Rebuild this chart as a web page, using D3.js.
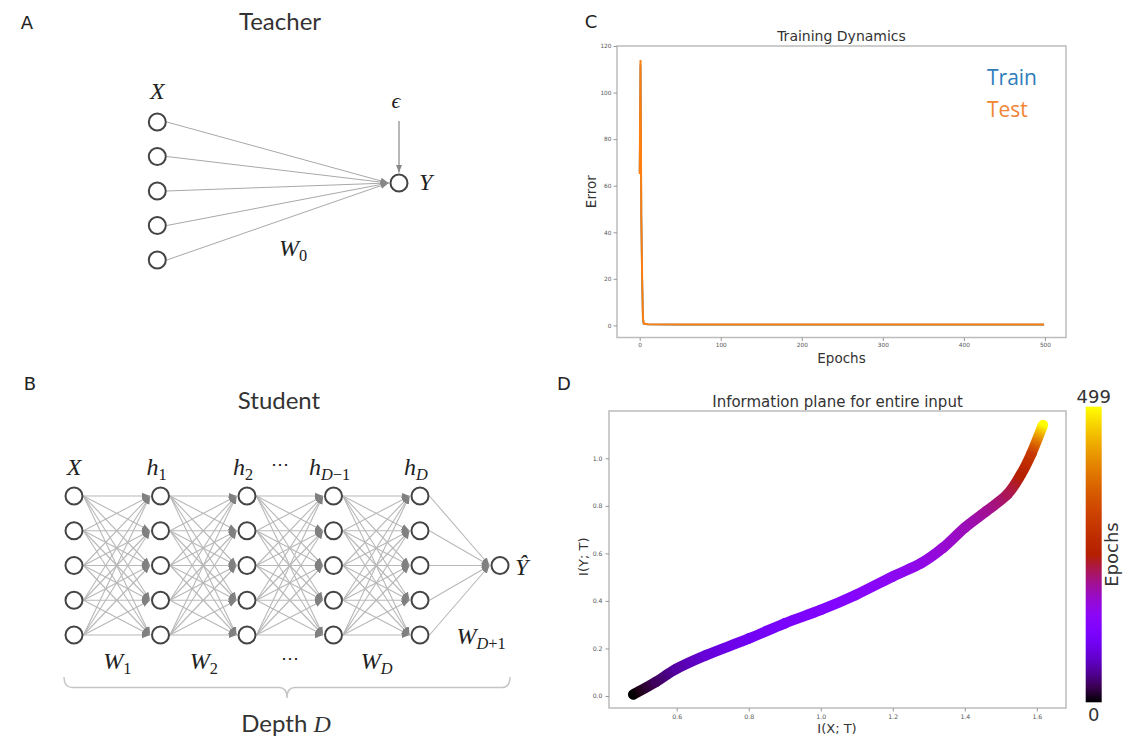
<!DOCTYPE html>
<html>
<head>
<meta charset="utf-8">
<script src="https://cdn.jsdelivr.net/npm/d3@7"></script>
<style>
  body { margin: 0; background: #fff; }
  svg { display: block; }
</style>
</head>
<body>
<div id="fig"></div>
<script>
// ---- data ----
// C: training dynamics
const epochs     = [0, 1, 2, 3, 4, 5, 10, 50, 100, 200, 300, 400, 499];
const trainError = [66, 112, 46, 20, 3, 0.7, 0.4, 0.3, 0.3, 0.3, 0.3, 0.3, 0.3];
const testError  = [65, 114, 47, 21, 3, 0.8, 0.5, 0.4, 0.4, 0.4, 0.4, 0.4, 0.4];
const errorTicks = [0, 20, 40, 60, 80, 100, 120];
const epochTicks = [0, 100, 200, 300, 400, 500];

// D: information plane
const ixt      = [0.479, 0.542, 0.60, 0.682, 0.801, 0.90, 1.0, 1.097, 1.2, 1.279, 1.339, 1.399, 1.459, 1.518, 1.555, 1.585, 1.617];
const iyt      = [0.006, 0.059, 0.115, 0.172, 0.242, 0.306, 0.362, 0.425, 0.503, 0.559, 0.623, 0.707, 0.777, 0.848, 0.93, 1.02, 1.14];
const ipEpochs = [0, 30, 55, 80, 100, 112, 125, 137, 150, 160, 172, 185, 200, 222, 250, 300, 499];
const ixtTicks = [0.6, 0.8, 1.0, 1.2, 1.4, 1.6];
const iytTicks = [0.0, 0.2, 0.4, 0.6, 0.8, 1.0];
const maxEpoch = 499;

// A / B: network diagrams
const teacherInputs = [0, 1, 2, 3, 4];
const studentLayers = ["X", "h1", "h2", "hD-1", "hD"];
const studentNodes  = [0, 1, 2, 3, 4];
const layerLabels = [
  [{t: "X", it: 1}],
  [{t: "h", it: 1}, {t: "1", sub: 1}],
  [{t: "h", it: 1}, {t: "2", sub: 1}],
  [{t: "h", it: 1}, {t: "D", it: 1, sub: 1}, {t: "\u22121", sub: 1}],
  [{t: "h", it: 1}, {t: "D", it: 1, sub: 1}]
];
const weightLabels = [
  [{t: "W", it: 1}, {t: "1", sub: 1}],
  [{t: "W", it: 1}, {t: "2", sub: 1}],
  [{t: "\u22EF"}],
  [{t: "W", it: 1}, {t: "D", it: 1, sub: 1}]
];

const serif = "'Liberation Serif','DejaVu Serif',serif";
const sans  = "Lato,'Open Sans',sans-serif";
const mpl   = "'DejaVu Sans',sans-serif";

// gnuplot colormap
function gnuplot(t) {
  const r = Math.sqrt(t), g = t * t * t, b = Math.max(0, Math.sin(2 * Math.PI * t));
  return d3.rgb(255 * r, 255 * g, 255 * b).toString();
}
const epochColor = e => gnuplot(e / maxEpoch);

const svg = d3.select("#fig").append("svg").attr("width", 1125).attr("height", 748);
const defs = svg.append("defs");

function arrowMarker(id, color, size) {
  defs.append("marker")
    .attr("id", id)
    .attr("viewBox", "0 0 10 10")
    .attr("refX", 10).attr("refY", 5)
    .attr("markerWidth", size).attr("markerHeight", size)
    .attr("markerUnits", "userSpaceOnUse")
    .attr("orient", "auto")
    .append("path").attr("d", "M0,1L10,5L0,9Z").attr("fill", color);
}
arrowMarker("arrA", "#888", 8);
arrowMarker("arrB", "#808080", 8);

function mathText(g, x, y, parts, size, anchor) {
  const t = g.append("text").attr("x", x).attr("y", y)
    .attr("text-anchor", anchor || "middle")
    .style("font-family", serif).style("font-size", size + "px").attr("fill", "#222");
  let down = false;
  parts.forEach(p => {
    const s = t.append("tspan").text(p.t).style("font-style", p.it ? "italic" : "normal");
    if (p.sub) {
      s.style("font-size", (size * 0.68) + "px");
      if (!down) { s.attr("dy", size * 0.22); down = true; }
    } else if (down) { s.attr("dy", -size * 0.22); down = false; }
  });
  return t;
}

function plainText(x, y, str, size, family, anchor, color) {
  return svg.append("text").attr("x", x).attr("y", y).text(str)
    .attr("text-anchor", anchor || "middle")
    .style("font-family", family).style("font-size", size + "px")
    .attr("fill", color || "#333");
}

// panel letters
plainText(27, 29, "A", 18, mpl, "middle", "#222");
plainText(30, 390, "B", 18, mpl, "middle", "#222");
plainText(591, 28, "C", 18, mpl, "middle", "#222");
plainText(564, 390, "D", 18, mpl, "middle", "#222");

// ---- A: teacher ----
const r = 9.5;
const gA = svg.append("g");
const aX = d3.scalePoint().domain(["in", "out"]).range([157.3, 399]);
const aY = d3.scaleLinear().domain([0, 4]).range([122, 260]);
const aOutY = 183;

plainText(280, 30, "Teacher", 24, sans);

gA.selectAll("line.edge").data(teacherInputs).join("line")
  .attr("x1", aX("in") + r).attr("y1", d => aY(d))
  .attr("x2", aX("out") - r - 1).attr("y2", aOutY)
  .attr("stroke", "#a8a8a8").attr("stroke-width", 1)
  .attr("marker-end", "url(#arrA)");

gA.append("line")
  .attr("x1", aX("out")).attr("y1", 121).attr("x2", aX("out")).attr("y2", aOutY - r - 1)
  .attr("stroke", "#888").attr("stroke-width", 1.2)
  .attr("marker-end", "url(#arrA)");

gA.selectAll("circle.in").data(teacherInputs).join("circle")
  .attr("cx", aX("in")).attr("cy", d => aY(d)).attr("r", r - 1)
  .attr("fill", "#fff").attr("stroke", "#444").attr("stroke-width", 2);
gA.append("circle").attr("cx", aX("out")).attr("cy", aOutY).attr("r", r - 1)
  .attr("fill", "#fff").attr("stroke", "#444").attr("stroke-width", 2);

mathText(gA, aX("in"), 99, [{t: "X", it: 1}], 24);
mathText(gA, aX("out") - 3, 108, [{t: "\u03F5", it: 1}], 22);
mathText(gA, aX("out") + 20, 190, [{t: "Y", it: 1}], 24, "start");
mathText(gA, 293, 256, [{t: "W", it: 1}, {t: "0", sub: 1}], 24);

// ---- B: student ----
const gB = svg.append("g");
const bX = d3.scalePoint().domain(studentLayers).range([74, 420]);
const bY = d3.scaleLinear().domain([0, 4]).range([496, 635]);
const outX = 500, outY = bY(2);

plainText(279, 409, "Student", 24, sans);

const edges = [];
for (let l = 0; l < studentLayers.length - 1; l++)
  studentNodes.forEach(i => studentNodes.forEach(j =>
    edges.push({x1: bX(studentLayers[l]), y1: bY(i), x2: bX(studentLayers[l + 1]), y2: bY(j)})));
studentNodes.forEach(i => edges.push({x1: bX("hD"), y1: bY(i), x2: outX, y2: outY}));

gB.selectAll("line").data(edges).join("line")
  .attr("x1", d => d.x1 + r).attr("y1", d => d.y1)
  .attr("x2", d => d.x2 - r - 1).attr("y2", d => d.y2)
  .attr("stroke", "#b8b8b8").attr("stroke-width", 1.1)
  .attr("marker-end", "url(#arrB)");

studentLayers.forEach(l => {
  gB.selectAll("circle.n" + l).data(studentNodes).join("circle")
    .attr("cx", bX(l)).attr("cy", d => bY(d)).attr("r", r - 1)
    .attr("fill", "#fff").attr("stroke", "#444").attr("stroke-width", 2);
});
gB.append("circle").attr("cx", outX).attr("cy", outY).attr("r", r - 1)
  .attr("fill", "#fff").attr("stroke", "#444").attr("stroke-width", 2);

studentLayers.forEach((l, i) => mathText(gB, bX(l) - (i ? 4 : 0), 475, layerLabels[i], 24));
mathText(gB, (bX("h2") + bX("hD-1")) / 2 - 10, 470, [{t: "\u22EF"}], 18);
weightLabels.forEach((p, i) => {
  const xm = (bX(studentLayers[i]) + bX(studentLayers[i + 1])) / 2;
  mathText(gB, xm, p.length === 1 ? 664 : 669, p, p.length === 1 ? 18 : 24);
});
mathText(gB, 481, 644, [{t: "W", it: 1}, {t: "D", it: 1, sub: 1}, {t: "+1", sub: 1}], 24);
mathText(gB, outX + 15, 575, [{t: "\u0176", it: 1}], 24, "start");

function bracePath(x1, x2, y, h) {
  const xm = (x1 + x2) / 2, q = h / 2, k = 8;
  const p = d3.path();
  p.moveTo(x1, y);
  p.quadraticCurveTo(x1, y + q, x1 + k, y + q);
  p.lineTo(xm - k, y + q);
  p.quadraticCurveTo(xm, y + q, xm, y + h);
  p.quadraticCurveTo(xm, y + q, xm + k, y + q);
  p.lineTo(x2 - k, y + q);
  p.quadraticCurveTo(x2, y + q, x2, y);
  return p.toString();
}
gB.append("path").attr("d", bracePath(64, 510, 677, 21))
  .attr("fill", "none").attr("stroke", "#c4c4c4").attr("stroke-width", 1.4);

const depth = plainText(286, 732, "Depth ", 24, sans);
depth.append("tspan").text("D").style("font-family", serif).style("font-style", "italic");

// ---- C: training dynamics ----
const gC = svg.append("g");
const cx = d3.scaleLinear().domain([-28, 526]).range([617, 1066]);
const cy = d3.scaleLinear().domain([-5.2, 120]).range([337.5, 46]);

gC.append("rect").attr("x", 617).attr("y", 46).attr("width", 449).attr("height", 291.5)
  .attr("fill", "none").attr("stroke", "#bcbcbc").attr("stroke-width", 1.5);

const lineC = (ys) => d3.line().x((d, i) => cx(epochs[i])).y(d => cy(d))(ys);
gC.append("path").attr("d", lineC(trainError)).attr("fill", "none")
  .attr("stroke", "#1f77b4").attr("stroke-width", 1.8);
gC.append("path").attr("d", lineC(testError)).attr("fill", "none")
  .attr("stroke", "#ff7f0e").attr("stroke-width", 2);

function styleAxis(g) {
  g.select(".domain").remove();
  g.selectAll(".tick line").attr("stroke", "#999");
  g.selectAll(".tick text").attr("fill", "#555").style("font-family", mpl).style("font-size", "5.8px");
}
gC.append("g").attr("transform", "translate(0,337.5)")
  .call(d3.axisBottom(cx).tickValues(epochTicks).tickSize(3.5).tickPadding(2))
  .call(styleAxis);
gC.append("g").attr("transform", "translate(617,0)")
  .call(d3.axisLeft(cy).tickValues(errorTicks).tickSize(3.5).tickPadding(2))
  .call(styleAxis);

plainText(841.5, 41, "Training Dynamics", 14, mpl, "middle", "#333");
plainText(841.5, 363, "Epochs", 13.5, mpl, "middle", "#333");
plainText(0, 0, "Error", 13.5, mpl, "middle", "#333")
  .attr("dy", "0.35em").attr("transform", "translate(591.4,191.7) rotate(-90)");

plainText(987, 85, "Train", 21, "'Open Sans',sans-serif", "start", "#2f7cba");
plainText(987, 117, "Test", 21, "'Open Sans',sans-serif", "start", "#f08535");

// ---- D: information plane ----
const gD = svg.append("g");
const dx = d3.scaleLinear().domain([0.412, 1.681]).range([609, 1066]);
const dy = d3.scaleLinear().domain([-0.0505, 1.199]).range([708, 411]);

gD.append("rect").attr("x", 609).attr("y", 411).attr("width", 457).attr("height", 297)
  .attr("fill", "none").attr("stroke", "#bcbcbc").attr("stroke-width", 1.5);

// smooth (Catmull-Rom) segments, each with its own colour gradient
const pts = ixt.map((x, i) => [dx(x), dy(iyt[i])]);
function segPath(i) {
  const p0 = pts[Math.max(i - 1, 0)], p1 = pts[i], p2 = pts[i + 1], p3 = pts[Math.min(i + 2, pts.length - 1)];
  const p = d3.path();
  p.moveTo(p1[0], p1[1]);
  p.bezierCurveTo(p1[0] + (p2[0] - p0[0]) / 6, p1[1] + (p2[1] - p0[1]) / 6,
                  p2[0] - (p3[0] - p1[0]) / 6, p2[1] - (p3[1] - p1[1]) / 6,
                  p2[0], p2[1]);
  return p.toString();
}
const segs = d3.range(pts.length - 1);
segs.forEach(i => {
  const grad = defs.append("linearGradient").attr("id", "seg" + i)
    .attr("gradientUnits", "userSpaceOnUse")
    .attr("x1", pts[i][0]).attr("y1", pts[i][1])
    .attr("x2", pts[i + 1][0]).attr("y2", pts[i + 1][1]);
  [0, 0.25, 0.5, 0.75, 1].forEach(o => grad.append("stop").attr("offset", o)
    .attr("stop-color", epochColor(ipEpochs[i] + (ipEpochs[i + 1] - ipEpochs[i]) * o)));
});
gD.selectAll("path.seg").data(segs).join("path")
  .attr("d", segPath)
  .attr("fill", "none")
  .attr("stroke", i => "url(#seg" + i + ")")
  .attr("stroke-width", 10.5).attr("stroke-linecap", "round");

gD.append("g").attr("transform", "translate(0,708)")
  .call(d3.axisBottom(dx).tickValues(ixtTicks).tickFormat(d3.format(".1f")).tickSize(3.5).tickPadding(3))
  .call(styleAxis);
gD.append("g").attr("transform", "translate(609,0)")
  .call(d3.axisLeft(dy).tickValues(iytTicks).tickFormat(d3.format(".1f")).tickSize(3.5).tickPadding(3))
  .call(styleAxis);
gD.selectAll(".tick text").style("font-size", "6.2px");

plainText(837.5, 407, "Information plane for entire input", 15, mpl, "middle", "#333");
plainText(837, 733, "I(X; T)", 13, mpl, "middle", "#333");
plainText(0, 0, "I(Y; T)", 13, mpl, "middle", "#333")
  .attr("dy", "0.35em").attr("transform", "translate(583.3,556.7) rotate(-90)");

// colorbar
const cb = d3.scaleLinear().domain([0, maxEpoch]).range([702.3, 406.7]);
const cbGrad = defs.append("linearGradient").attr("id", "cbar")
  .attr("x1", 0).attr("y1", 1).attr("x2", 0).attr("y2", 0);
d3.range(0, 1.0001, 0.05).forEach(o => cbGrad.append("stop").attr("offset", o)
  .attr("stop-color", gnuplot(o)));
gD.append("rect").attr("x", 1085.7).attr("y", cb(maxEpoch)).attr("width", 16)
  .attr("height", cb(0) - cb(maxEpoch)).attr("fill", "url(#cbar)");
plainText(1093.7, cb(maxEpoch) - 4, String(maxEpoch), 18, mpl, "middle", "#333");
plainText(1093.7, cb(0) + 19, "0", 18, mpl, "middle", "#333");
plainText(0, 0, "Epochs", 18, mpl, "middle", "#333")
  .attr("dy", "0.35em").attr("transform", "translate(1112,554.5) rotate(-90)");
</script>
</body>
</html>
